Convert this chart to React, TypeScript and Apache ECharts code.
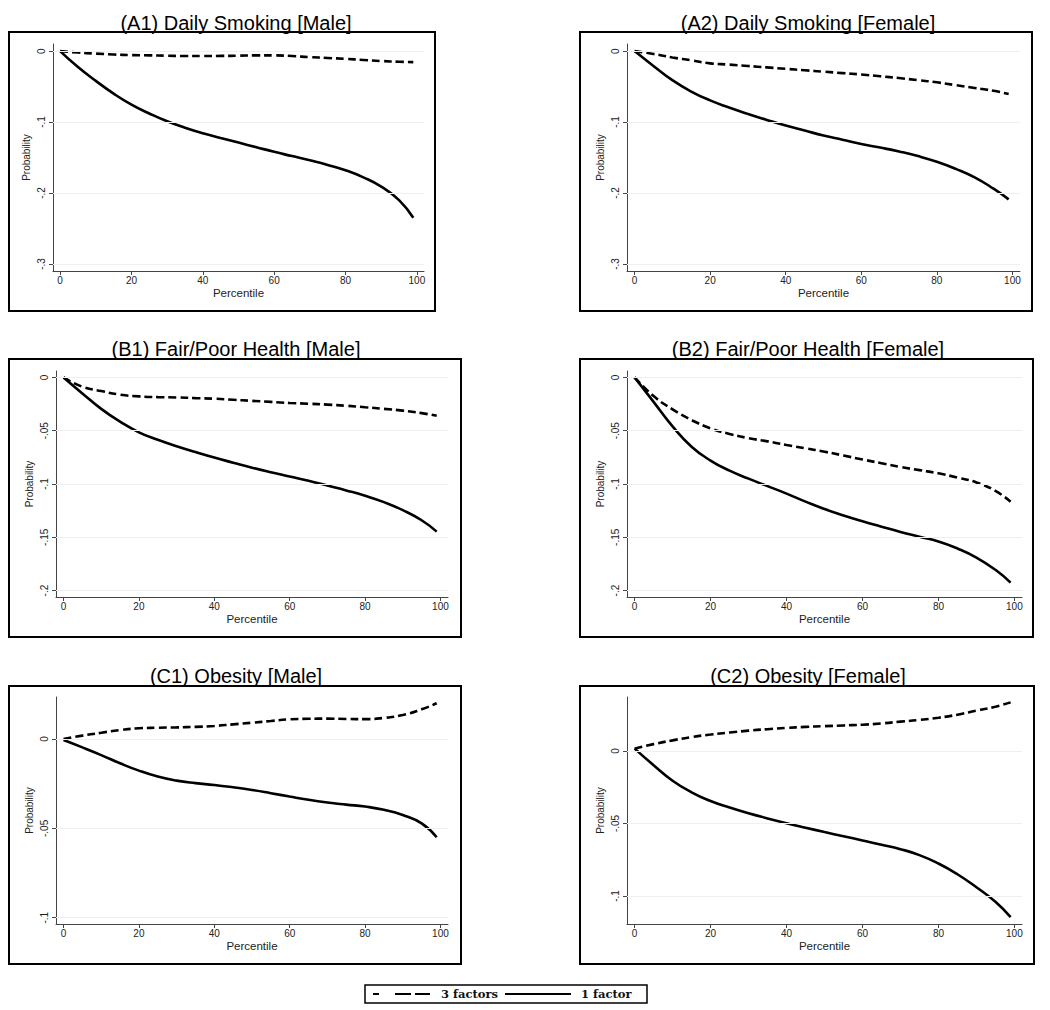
import React, { useEffect, useRef } from "react";
import * as echarts from "echarts";

// ---------------- data ----------------
const percentiles = [0, 5, 10, 15, 20, 25, 30, 35, 40, 45, 50, 55, 60, 65, 70, 75, 80, 85, 90, 95, 99];

const a1Three = [0, -0.002, -0.0035, -0.0048, -0.0056, -0.006, -0.0065, -0.007, -0.007, -0.0068, -0.0065, -0.006, -0.006, -0.007, -0.0085, -0.0097, -0.011, -0.0125, -0.014, -0.015, -0.0155];
const a1One = [0, -0.0225, -0.042, -0.06, -0.0755, -0.088, -0.099, -0.108, -0.1158, -0.1225, -0.129, -0.1355, -0.142, -0.148, -0.154, -0.1605, -0.168, -0.178, -0.191, -0.21, -0.235];

const a2Three = [0, -0.004, -0.009, -0.013, -0.0173, -0.019, -0.021, -0.023, -0.025, -0.027, -0.029, -0.031, -0.033, -0.0355, -0.038, -0.041, -0.044, -0.048, -0.052, -0.056, -0.0605];
const a2One = [0, -0.021, -0.041, -0.057, -0.0695, -0.0795, -0.0885, -0.097, -0.105, -0.112, -0.119, -0.125, -0.131, -0.136, -0.1415, -0.148, -0.156, -0.166, -0.178, -0.194, -0.209];

const b1Three = [0, -0.0088, -0.0128, -0.0162, -0.0178, -0.0185, -0.0188, -0.0194, -0.02, -0.021, -0.022, -0.023, -0.024, -0.0247, -0.0255, -0.0266, -0.028, -0.0295, -0.0312, -0.0335, -0.036];
const b1One = [0, -0.015, -0.0295, -0.0415, -0.0515, -0.0585, -0.0645, -0.07, -0.0752, -0.08, -0.0847, -0.089, -0.093, -0.097, -0.1015, -0.106, -0.111, -0.117, -0.1245, -0.134, -0.1447];

const b2Three = [0, -0.0175, -0.03, -0.04, -0.0478, -0.053, -0.057, -0.06, -0.0634, -0.0665, -0.0697, -0.0733, -0.077, -0.0805, -0.084, -0.087, -0.09, -0.094, -0.0985, -0.1065, -0.1166];
const b2One = [0, -0.023, -0.046, -0.065, -0.078, -0.0875, -0.095, -0.102, -0.109, -0.1165, -0.1235, -0.1295, -0.135, -0.14, -0.145, -0.1495, -0.154, -0.1605, -0.169, -0.1805, -0.1925];

const c1Three = [0, 0.0019, 0.0035, 0.005, 0.006, 0.0063, 0.0065, 0.0068, 0.0073, 0.0082, 0.0091, 0.0101, 0.011, 0.0113, 0.0114, 0.0112, 0.0111, 0.0118, 0.0134, 0.0166, 0.02];
const c1One = [-0.0006, -0.0047, -0.009, -0.0136, -0.0177, -0.021, -0.0233, -0.0247, -0.0257, -0.027, -0.0285, -0.0303, -0.0322, -0.034, -0.0355, -0.0367, -0.0378, -0.0396, -0.0425, -0.0472, -0.055];

const c2Three = [0.0016, 0.0047, 0.0073, 0.0096, 0.0113, 0.0127, 0.014, 0.015, 0.0159, 0.0166, 0.0171, 0.0176, 0.0181, 0.019, 0.0202, 0.0214, 0.0229, 0.025, 0.0278, 0.0305, 0.0335];
const c2One = [0.0016, -0.0098, -0.0205, -0.0285, -0.0345, -0.039, -0.043, -0.0465, -0.0498, -0.0529, -0.0559, -0.0588, -0.0617, -0.0646, -0.0677, -0.0718, -0.0776, -0.085, -0.094, -0.104, -0.1146];

const panelTitles = [
  "(A1) Daily Smoking [Male]",
  "(A2) Daily Smoking [Female]",
  "(B1) Fair/Poor Health [Male]",
  "(B2) Fair/Poor Health [Female]",
  "(C1) Obesity [Male]",
  "(C2) Obesity [Female]",
];

const xTicks = [0, 20, 40, 60, 80, 100];
const yTicksA = [-0.3, -0.2, -0.1, 0];
const yTicksB = [-0.2, -0.15, -0.1, -0.05, 0];
const yTicksC = [-0.1, -0.05, 0];

const seriesNames = ["3 factors", "1 factor"];
const xAxisTitle = "Percentile";
const yAxisTitle = "Probability";

// ---------------- layout ----------------
const FONT = "'Liberation Sans', Arial, Helvetica, sans-serif";

const panels = [
  { three: a1Three, one: a1One, ticks: yTicksA, ymin: -0.31, ymax: 0.01, grid: { left: 53, top: 44, width: 371, height: 227 }, frame: [9, 32, 435, 311], titleX: 236, titleY: 23 },
  { three: a2Three, one: a2One, ticks: yTicksA, ymin: -0.31, ymax: 0.01, grid: { left: 627, top: 44, width: 393, height: 227 }, frame: [580, 32, 1032, 311], titleX: 808, titleY: 23 },
  { three: b1Three, one: b1One, ticks: yTicksB, ymin: -0.206, ymax: 0.006, grid: { left: 56, top: 371, width: 392, height: 226 }, frame: [9, 359, 461, 637], titleX: 236, titleY: 349 },
  { three: b2Three, one: b2One, ticks: yTicksB, ymin: -0.206, ymax: 0.006, grid: { left: 627, top: 371, width: 395, height: 226 }, frame: [580, 359, 1033, 637], titleX: 808, titleY: 349 },
  { three: c1Three, one: c1One, ticks: yTicksC, ymin: -0.1035, ymax: 0.0235, grid: { left: 56, top: 697, width: 392, height: 227 }, frame: [9, 686, 461, 964], titleX: 236, titleY: 676 },
  { three: c2Three, one: c2One, ticks: yTicksC, ymin: -0.1193, ymax: 0.0372, grid: { left: 627, top: 697, width: 395, height: 227 }, frame: [580, 686, 1034, 964], titleX: 808, titleY: 676 },
];

const fmtY = (v: number) => {
  if (Math.abs(v) < 1e-12) return "0";
  const s = String(Math.round(v * 1000) / 1000);
  return s.replace("0.", ".");
};

function buildOption() {
  const grids: any[] = [];
  const xAxes: any[] = [];
  const yAxes: any[] = [];
  const series: any[] = [];
  const graphics: any[] = [];

  panels.forEach((p, i) => {
    grids.push({ ...p.grid, containLabel: false });
    xAxes.push({
      type: "value",
      gridIndex: i,
      min: -2,
      max: 102,
      name: xAxisTitle,
      nameLocation: "middle",
      nameGap: 16,
      nameTextStyle: { fontFamily: FONT, fontSize: 11.5, color: "#222" },
      axisLine: { show: true, onZero: false, lineStyle: { color: "#444", width: 1 } },
      axisTick: { show: true, length: 4, customValues: xTicks, lineStyle: { color: "#444" } },
      axisLabel: { show: true, margin: 4, customValues: xTicks, fontFamily: FONT, fontSize: 10, color: "#222" },
      splitLine: { show: false },
    });
    yAxes.push({
      type: "value",
      gridIndex: i,
      min: p.ymin,
      max: p.ymax,
      name: yAxisTitle,
      nameLocation: "middle",
      nameGap: 22,
      nameTextStyle: { fontFamily: FONT, fontSize: 10, color: "#222" },
      axisLine: { show: true, onZero: false, lineStyle: { color: "#444", width: 1 } },
      axisTick: { show: true, length: 4, customValues: p.ticks, lineStyle: { color: "#444" } },
      axisLabel: { show: true, rotate: 90, margin: 7, customValues: p.ticks, formatter: fmtY, fontFamily: FONT, fontSize: 10, color: "#222" },
      splitLine: { show: false },
    });
    // gridlines
    series.push({
      type: "line",
      xAxisIndex: i,
      yAxisIndex: i,
      data: [],
      silent: true,
      z: 1,
      markLine: {
        silent: true,
        symbol: ["none", "none"],
        label: { show: false },
        lineStyle: { color: "#efefef", type: "solid", width: 1 },
        data: p.ticks.map((v) => ({ yAxis: v })),
      },
    });
    series.push({
      name: seriesNames[0],
      type: "line",
      xAxisIndex: i,
      yAxisIndex: i,
      data: percentiles.map((x, k) => [x, p.three[k]]),
      showSymbol: false,
      smooth: 0.5,
      silent: true,
      z: 3,
      lineStyle: { color: "#000", width: 2.6, type: [8, 4] },
    });
    series.push({
      name: seriesNames[1],
      type: "line",
      xAxisIndex: i,
      yAxisIndex: i,
      data: percentiles.map((x, k) => [x, p.one[k]]),
      showSymbol: false,
      smooth: 0.5,
      silent: true,
      z: 3,
      lineStyle: { color: "#000", width: 2.6, type: "solid" },
    });

    const [x0, y0, x1, y1] = p.frame;
    graphics.push({
      type: "rect",
      z: 0,
      shape: { x: x0, y: y0, width: x1 - x0, height: y1 - y0 },
      style: { fill: "none", stroke: "#000", lineWidth: 2 },
      silent: true,
    });
    graphics.push({
      type: "text",
      z: 10,
      x: p.titleX,
      y: p.titleY,
      style: {
        text: panelTitles[i],
        fontFamily: FONT,
        fontSize: 20,
        fill: "#000",
        textAlign: "center",
        textVerticalAlign: "middle",
      },
      silent: true,
    });
  });

  // legend
  const LEG_FONT = "'DejaVu Serif', 'Liberation Serif', serif";
  graphics.push({
    type: "rect",
    shape: { x: 365, y: 985, width: 282, height: 18 },
    style: { fill: "#fff", stroke: "#000", lineWidth: 1.5 },
    silent: true,
  });
  const dashSegs = [[373, 379], [395, 411], [415, 430]];
  dashSegs.forEach(([a, b]) =>
    graphics.push({
      type: "line",
      shape: { x1: a, y1: 994, x2: b, y2: 994 },
      style: { stroke: "#000", lineWidth: 2 },
      silent: true,
    })
  );
  graphics.push({
    type: "text",
    x: 441,
    y: 994,
    style: { text: seriesNames[0], fontFamily: LEG_FONT, fontSize: 11.5, fontWeight: "bold", fill: "#111", textAlign: "left", textVerticalAlign: "middle" },
    silent: true,
  });
  graphics.push({
    type: "line",
    shape: { x1: 505, y1: 994, x2: 571, y2: 994 },
    style: { stroke: "#000", lineWidth: 2 },
    silent: true,
  });
  graphics.push({
    type: "text",
    x: 581,
    y: 994,
    style: { text: seriesNames[1], fontFamily: LEG_FONT, fontSize: 11.5, fontWeight: "bold", fill: "#111", textAlign: "left", textVerticalAlign: "middle" },
    silent: true,
  });

  return {
    animation: false,
    backgroundColor: "#fff",
    grid: grids,
    xAxis: xAxes,
    yAxis: yAxes,
    series,
    graphic: graphics,
  };
}

export default function App() {
  const ref = useRef<HTMLDivElement>(null);
  useEffect(() => {
    if (!ref.current) return;
    const chart = echarts.init(ref.current, undefined, { renderer: "svg" });
    chart.setOption(buildOption() as any);
    return () => chart.dispose();
  }, []);
  return (
    <div
      ref={ref}
      style={{ position: "fixed", left: 0, top: 0, width: 1050, height: 1010, background: "#fff" }}
    />
  );
}
